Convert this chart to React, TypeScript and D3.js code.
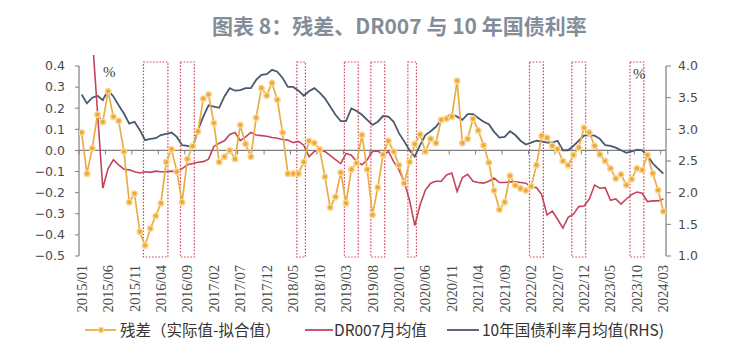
import React from "react";
import * as d3 from "d3";

const START_YEAR = 2015;
const N_MONTHS = 111;
const months: string[] = d3.range(N_MONTHS).map((i) => {
  const y = START_YEAR + Math.floor(i / 12);
  const m = (i % 12) + 1;
  return `${y}/${m < 10 ? "0" + m : m}`;
});

const xTickLabels = [
  "2015/01", "2015/06", "2015/11", "2016/04", "2016/09", "2017/02", "2017/07", "2017/12",
  "2018/05", "2018/10", "2019/03", "2019/08", "2020/01", "2020/06", "2020/11", "2021/04",
  "2021/09", "2022/02", "2022/07", "2022/12", "2023/05", "2023/10", "2024/03",
];

const leftTicks = [-0.5, -0.4, -0.3, -0.2, -0.1, 0.0, 0.1, 0.2, 0.3, 0.4];
const rightTicks = [1.0, 1.5, 2.0, 2.5, 3.0, 3.5, 4.0];

// 残差（实际值-拟合值）, left axis
const residual = [
  0.085, -0.11, 0.01, 0.17, 0.135, 0.28, 0.16, 0.14, -0.005, -0.245,
  -0.205, -0.385, -0.45, -0.37, -0.31, -0.25, -0.055, 0.005, -0.10, -0.245,
  -0.04, 0.02, 0.09, 0.245, 0.265, 0.13, -0.055, -0.03, 0.0, -0.04,
  0.12, 0.03, -0.03, 0.155, 0.295, 0.26, 0.32, 0.24, 0.085, -0.11,
  -0.11, -0.11, -0.055, 0.045, 0.035, 0.005, -0.125, -0.27, -0.22, -0.105,
  -0.25, -0.09, -0.06, 0.073, -0.09, -0.305, -0.175, -0.02, 0.045, -0.005,
  -0.07, -0.155, -0.055, 0.03, 0.075, -0.005, 0.055, 0.035, 0.145, 0.15,
  0.16, 0.33, 0.035, 0.055, 0.15, 0.095, 0.025, -0.057, -0.19, -0.28,
  -0.245, -0.12, -0.165, -0.18, -0.19, -0.17, -0.07, 0.07, 0.06, 0.022,
  0.006, -0.05, -0.07, -0.022, 0.013, 0.107, 0.085, 0.022, -0.019, -0.05,
  -0.085, -0.133, -0.114, -0.164, -0.136, -0.085, -0.093, -0.022, -0.109, -0.188,
  -0.288,
];

// DR007月均值, right axis
const dr007 = [
  4.5, 4.6, 4.48, 3.27, 2.07, 2.38, 2.52, 2.44, 2.37, 2.36,
  2.33, 2.31, 2.33, 2.32, 2.34, 2.33, 2.33, 2.34, 2.33, 2.38,
  2.44, 2.46, 2.48, 2.49, 2.53, 2.73, 2.78, 2.82, 2.92, 2.95,
  2.82, 2.88, 2.95, 2.91, 2.9, 2.89, 2.87, 2.86, 2.84, 2.83,
  2.79, 2.81, 2.75, 2.57, 2.65, 2.67, 2.65, 2.59, 2.52, 2.46,
  2.62, 2.59, 2.49, 2.44, 2.52, 2.65, 2.66, 2.59, 2.65, 2.49,
  2.36, 2.17, 1.88, 1.48, 1.81, 2.04, 2.15, 2.18, 2.18, 2.28,
  2.31, 2.02, 2.24, 2.29, 2.18, 2.16, 2.15, 2.18, 2.23, 2.16,
  2.16, 2.17, 2.17, 2.16, 2.15, 2.09, 2.08, 1.97, 1.65, 1.71,
  1.58, 1.44, 1.61, 1.66, 1.78, 1.79, 1.9, 2.12, 2.07, 2.08,
  1.88, 1.9, 1.82, 1.9, 1.97, 2.01, 1.99, 1.86, 1.87, 1.87,
  1.9,
];

// 10年国债利率月均值(RHS)
const cgb10y = [
  3.55, 3.41, 3.5, 3.53, 3.46, 3.62, 3.52, 3.38, 3.25, 3.09,
  3.12, 2.99, 2.83, 2.85, 2.86, 2.91, 2.93, 2.95, 2.88, 2.75,
  2.74, 2.71, 2.99, 3.2, 3.38, 3.36, 3.34, 3.52, 3.65, 3.61,
  3.62, 3.65, 3.65, 3.78, 3.86, 3.87, 3.94, 3.91, 3.81, 3.67,
  3.67, 3.61, 3.53, 3.6, 3.65, 3.58, 3.49, 3.36, 3.23, 3.13,
  3.13, 3.33, 3.29, 3.23, 3.15, 3.07, 3.12, 3.21, 3.2, 3.12,
  2.94, 2.81, 2.67, 2.57, 2.75, 2.91, 2.97, 3.04, 3.15, 3.2,
  3.24, 3.2, 3.15, 3.24, 3.24, 3.18, 3.12, 3.08, 2.96, 2.87,
  2.88, 2.97, 2.91, 2.82, 2.76, 2.79, 2.82, 2.81, 2.79, 2.79,
  2.82, 2.67, 2.67, 2.74, 2.82, 2.9, 2.91, 2.9, 2.85, 2.75,
  2.74, 2.71, 2.67, 2.63, 2.65, 2.68, 2.67, 2.59, 2.46, 2.38,
  2.3,
];

// highlighted periods (dotted boxes)
const highlightStart = ["2016/01", "2016/08", "2018/06", "2019/03", "2019/08", "2020/03", "2022/02", "2022/10", "2023/09"];
const highlightEnd = ["2016/05", "2016/10", "2018/07", "2019/05", "2019/10", "2020/04", "2022/04", "2022/12", "2023/11"];

const W = 754;
const H = 354;
const PL = 79;
const PR = 666;
const PT = 66;
const PB = 256;

export default function App() {
  const x = d3.scaleBand<string>().domain(months).range([PL, PR]).padding(0);
  const bw = x.bandwidth();
  const xc = (m: string) => (x(m) as number) + bw / 2;
  const yL = d3.scaleLinear().domain([-0.5, 0.4]).range([PB, PT]);
  const yR = d3.scaleLinear().domain([1, 4]).range([PB, PT]);

  const lineL = d3.line<number>().x((_, i) => xc(months[i])).y((d) => yL(d));
  const lineR = d3.line<number>().x((_, i) => xc(months[i])).y((d) => yR(d));

  const zeroY = yL(0);
  const tickIdx = d3.range(0, N_MONTHS + 1, 5);

  const axisColor = "#7f7f7f";
  const numFont = "'DejaVu Sans', sans-serif";
  const serifFont = "'Liberation Serif', serif";
  const cjk = "'Noto Sans CJK SC', sans-serif";

  return (
    <div style={{ position: "absolute", left: 0, top: 0 }}>
      <svg width={W} height={H} viewBox={`0 0 ${W} ${H}`} style={{ display: "block", background: "#fff" }}>
        <defs>
          <clipPath id="plotClip">
            <rect x={PL} y={55} width={PR - PL} height={PB - 55 + 2} />
          </clipPath>
        </defs>
        <text x={212} y={34} fontFamily={cjk} fontSize={21} fontWeight={600} fill="#838d98">
          图表 8：残差、DR007 与 10 年国债利率
        </text>

        {/* highlight boxes */}
        {highlightStart.map((s, k) => {
          const x0 = (x(s) as number) + 1;
          const x1 = (x(highlightEnd[k]) as number) + bw - 1;
          return (
            <rect key={"h" + k} x={x0} y={62} width={x1 - x0} height={PB - 62 + 1}
              fill="none" stroke="#d2495a" strokeWidth={1.2} strokeDasharray="1.6,1.6" />
          );
        })}

        {/* zero (category) axis */}
        <line x1={PL} x2={PR} y1={zeroY} y2={zeroY} stroke={axisColor} strokeWidth={1.2} />
        {tickIdx.map((k) => {
          const tx = PL + k * bw;
          return <line key={"xt" + k} x1={tx} x2={tx} y1={zeroY} y2={zeroY + 4} stroke={axisColor} strokeWidth={1} />;
        })}

        {/* left axis */}
        <line x1={PL} x2={PL} y1={PT} y2={PB} stroke={axisColor} strokeWidth={1.2} />
        {leftTicks.map((t) => (
          <g key={"l" + t}>
            <line x1={PL - 4} x2={PL} y1={yL(t)} y2={yL(t)} stroke={axisColor} strokeWidth={1} />
            <text x={65} y={yL(t)} dy="0.35em" textAnchor="end" fontFamily={numFont} fontSize={12.5} fill="#4a4a4a">
              {d3.format(".1f")(t)}
            </text>
          </g>
        ))}

        {/* right axis */}
        <line x1={PR} x2={PR} y1={PT} y2={PB} stroke={axisColor} strokeWidth={1.2} />
        {rightTicks.map((t) => (
          <g key={"r" + t}>
            <line x1={PR} x2={PR + 5} y1={yR(t)} y2={yR(t)} stroke={axisColor} strokeWidth={1} />
            <text x={678} y={yR(t)} dy="0.35em" textAnchor="start" fontFamily={numFont} fontSize={12.5} fill="#4a4a4a">
              {d3.format(".1f")(t)}
            </text>
          </g>
        ))}

        {/* x tick labels */}
        {xTickLabels.map((lab) => {
          const cx = xc(lab);
          return (
            <text key={"xl" + lab} transform={`translate(${cx + 5},265) rotate(-90)`} textAnchor="end"
              fontFamily={serifFont} fontSize={14.5} fill="#4a4a4a">
              {lab}
            </text>
          );
        })}

        <text x={103} y={77} fontFamily={serifFont} fontSize={15} fill="#404040">%</text>
        <text x={633} y={79} fontFamily={serifFont} fontSize={15} fill="#404040">%</text>

        {/* series */}
        <g clipPath="url(#plotClip)">
          <path d={lineR(cgb10y) || ""} fill="none" stroke="#4b596d" strokeWidth={1.8} />
          <path d={lineR(dr007) || ""} fill="none" stroke="#c4445f" strokeWidth={1.6} />
          <path d={lineL(residual) || ""} fill="none" stroke="#e9ad45" strokeWidth={1.7} />
          {residual.map((v, i) => (
            <circle key={"p" + i} cx={xc(months[i])} cy={yL(v)} r={2.8} fill="#f0a935" stroke="#f9d798" strokeWidth={1.4} />
          ))}
        </g>

        {/* legend */}
        <line x1={85} x2={116} y1={330} y2={330} stroke="#e9ad45" strokeWidth={1.8} />
        <circle cx={101} cy={330} r={2.6} fill="#f0a935" stroke="#f9d798" strokeWidth={1.2} />
        <text x={120} y={336} fontFamily={cjk} fontSize={15.5} fill="#333">残差（实际值-拟合值）</text>
        <line x1={305} x2={333} y1={330} y2={330} stroke="#c4445f" strokeWidth={1.8} />
        <text x={334} y={336} fontFamily={cjk} fontSize={15.5} fill="#333">DR007月均值</text>
        <line x1={447} x2={479} y1={330} y2={330} stroke="#4b596d" strokeWidth={1.8} />
        <text x={482} y={336} fontFamily={cjk} fontSize={15.5} fill="#333">10年国债利率月均值(RHS)</text>
      </svg>
    </div>
  );
}
